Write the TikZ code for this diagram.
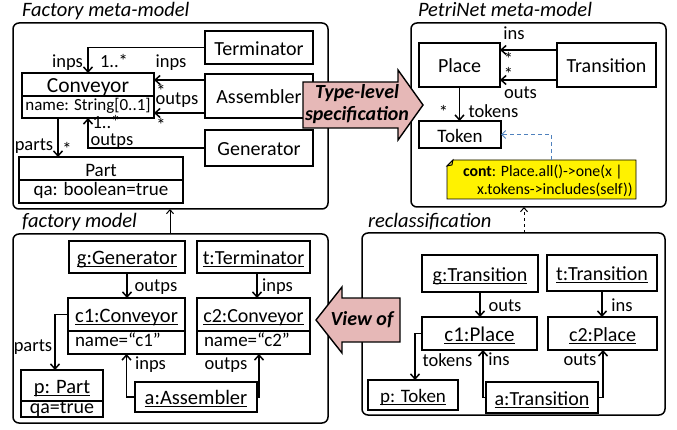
\documentclass[tikz,border=0pt]{standalone}
\usepackage{fontspec}
\setmainfont{Carlito}
\usetikzlibrary{arrows.meta}
\newcommand\fs[1]{\fontsize{#1}{#1}\selectfont}
\newcommand\fnote{\fontsize{15.8}{18}\selectfont}
\newcommand\myul[1]{\leavevmode\setbox0\hbox{#1}\rlap{\rule[-2.6pt]{\wd0}{1.3pt}}\box0}
\definecolor{blkfill}{RGB}{230,184,183}
\definecolor{dashblue}{RGB}{79,129,189}
\begin{document}
\begin{tikzpicture}[x=1pt,y=-1pt,
  every node/.style={inner sep=0pt,outer sep=0pt},
  frame/.style={draw,line width=1.5pt,rounded corners=6pt},
  box/.style={draw,line width=1.6pt,font=\fs{20},text height=16pt,text depth=0.6pt},
  attr/.style={draw,line width=1.6pt,font=\fs{19},text height=12pt,text depth=4pt},
  lattr/.style={attr,align=left,inner xsep=7pt},
  lbl/.style={font=\fs{18.5},anchor=base},
  ttl/.style={font=\fs{20.5}\itshape,anchor=base west},
  arr/.style={line width=1.6pt,-{Straight Barb[length=5pt,width=9pt,line width=1.5pt]}},
  link/.style={line width=1pt,-{Straight Barb[length=4pt,width=7pt,line width=1pt]}},
  dasharr/.style={draw=dashblue,line width=1pt,dash pattern=on 4pt off 3pt,-{Straight Barb[length=4pt,width=8pt,line width=1pt]}},
  blk/.style={draw,line width=1.4pt,fill=blkfill,line join=miter},
  blklbl/.style={font=\fontsize{20}{22}\selectfont\bfseries\itshape,align=center},
]
\useasboundingbox (0,0) rectangle (677,430);

% frames
\node[frame,minimum width=315pt,minimum height=186pt] (fmm) at (170.5,116) {};
\node[frame,minimum width=255pt,minimum height=184pt] (pmm) at (538.5,115) {};
\node[frame,minimum width=315pt,minimum height=189pt] (fm) at (170.5,328.5) {};
\node[frame,minimum width=303pt,minimum height=182pt] (rc) at (513.5,324) {};

\node[ttl] (tfmm) at (22,17) {Factory meta-model};
\node[ttl] (tpmm) at (418,17) {PetriNet meta-model};
\node[ttl] (tfm) at (22,228) {factory model};
\node[ttl] (trc) at (368,228) {reclassification};

% coordinates
\coordinate (ya1) at (0,80);
\coordinate (ya2) at (0,113);
\coordinate (x58) at (58,0);
\coordinate (yp1) at (0,50);
\coordinate (yp2) at (0,80);
\coordinate (x551) at (551,0);
\coordinate (x55) at (55,0);
\coordinate (x257) at (257,0);
\coordinate (x259) at (259,0);
\coordinate (x415) at (415,0);
\coordinate (x483) at (483,0);
\coordinate (x603) at (603,0);
\coordinate (x170) at (170,0);
\coordinate (x524) at (524,0);

% Factory meta-model
\node[box,minimum width=108pt,minimum height=33pt] (term) at (259,47.5) {Terminator};
\node[box,font=\fs{21.5},minimum width=132pt,minimum height=23pt] (conv) at (88,84.5) {Conveyor};
\node[attr,font=\fs{17},minimum width=132pt,minimum height=22pt] (conva) at (88,107) {name: String[0..1]};
\node[box,minimum width=108pt,minimum height=44pt] (asm) at (259,96) {Assembler};
\node[box,minimum width=108pt,minimum height=36pt] (gen) at (259,148) {Generator};
\node[box,font=\fs{19},minimum width=164pt,minimum height=23pt] (part) at (101,168.5) {Part};
\node[attr,minimum width=164pt,minimum height=23pt] (parta) at (101,191.5) {qa: boolean=true};

\draw[arr] (term.west) -| (conv.north);
\draw[arr] (asm.west |- ya1) -- (conv.east |- ya1);
\draw[arr] (asm.west |- ya2) -- (conva.east |- ya2);
\draw[arr] (gen.west) -| (conva.south);
\draw[arr] (conva.south -| x58) -- (part.north -| x58);

\node[lbl] (l1) at (67.5,68) {inps};
\node[lbl] (l2) at (114,68) {1..*};
\node[lbl] (l3) at (171,68) {inps};
\node[lbl] (l4) at (161,97.5) {*};
\node[lbl] (l5) at (177,104.5) {outps};
\node[lbl] (l6) at (161,132) {*};
\node[lbl] (l7) at (106.5,129) {1..*};
\node[lbl] (l8) at (112,145.5) {outps};
\node[lbl] (l9) at (34,150.7) {parts};
\node[lbl] (l10) at (67,156) {*};

% PetriNet meta-model
\node[box,minimum width=81pt,minimum height=44pt] (place) at (459.5,65) {Place};
\node[box,minimum width=99pt,minimum height=44pt] (trans) at (606.5,65) {Transition};
\node[box,font=\fs{19},minimum width=82pt,minimum height=27pt] (token) at (460,134.5) {Token};

\draw[arr] (trans.west |- yp1) -- (place.east |- yp1);
\draw[arr] (trans.west |- yp2) -- (place.east |- yp2);
\draw[arr] (place.south) -- (place.south |- token.north);

\node[lbl] (p1) at (514,39.3) {ins};
\node[lbl] (p2) at (508.5,65.5) {*};
\node[lbl] (p3) at (508.5,80.5) {*};
\node[lbl] (p4) at (520.5,98.3) {outs};
\node[lbl] (p5) at (443.5,118.7) {*};
\node[lbl] (p6) at (493.5,117.3) {tokens};

\draw[line width=0.8pt,fill=yellow] (453,160) -- (636,160) -- (636,199) -- (447,199) -- (447,166) -- cycle;
\draw[line width=0.8pt,fill=yellow!75!black] (447,166) -- (453,160) -- (452,165) -- cycle;
\node[minimum width=189pt,minimum height=39pt] (note) at (541.5,179.5) {};
\node[font=\fnote,anchor=base west] (n1) at (463,176.7) {\textbf{cont}: Place.all()->one(x |};
\node[font=\fnote,anchor=base west] (n2) at (477,195) {x.tokens->includes(self))};
\draw[dasharr] (note.north -| x551) |- (token.east);

% factory model
\node[box,font=\fs{20.5},minimum width=116pt,minimum height=32pt] (ig) at (127,257) {\myul{g:Generator}};
\node[box,minimum width=113pt,minimum height=32pt] (it) at (253.5,257) {\myul{t:Terminator}};
\node[box,font=\fs{20.5},minimum width=117pt,minimum height=33pt] (ic1) at (126.5,314.5) {\myul{c1:Conveyor}};
\node[lattr,text width=103pt,minimum height=23pt] (ic1a) at (126.5,342.5) {name=“c1”};
\node[box,minimum width=113pt,minimum height=33pt] (ic2) at (253.5,314.5) {\myul{c2:Conveyor}};
\node[lattr,text width=99pt,minimum height=23pt] (ic2a) at (253.5,342.5) {name=“c2”};
\node[box,font=\fs{20.5},minimum width=82pt,minimum height=31pt] (ip) at (62,385.5) {\myul{p: Part}};
\node[attr,font=\fs{20},minimum width=82pt,minimum height=16pt] (ipa) at (62,409) {qa=true};
\node[box,font=\fs{20.5},minimum width=122pt,minimum height=30pt] (ia) at (196,397) {\myul{a:Assembler}};

\draw[arr] (ig.south) -- (ig.south |- ic1.north);
\draw[arr] (it.south -| x257) -- (ic2.north -| x257);
\draw[arr] (ic1.west) -| (ip.north -| x55);
\draw[arr] (ia.west) -| (ic1a.south);
\draw[arr] (ia.east) -| (ic2a.south -| x259);

\node[lbl] (f1) at (156,291) {outps};
\node[lbl] (f2) at (277.5,291) {inps};
\node[lbl] (f3) at (33,351.7) {parts};
\node[lbl] (f4) at (150.5,369.3) {inps};
\node[lbl] (f5) at (226,369.3) {outps};

% reclassification
\node[box,minimum width=116pt,minimum height=37pt] (rg) at (480,273.5) {\myul{g:Transition}};
\node[box,minimum width=110pt,minimum height=36pt] (rt) at (602,273) {\myul{t:Transition}};
\node[box,font=\fs{21},minimum width=115pt,minimum height=33pt] (rc1) at (479.5,333.5) {\myul{c1:Place}};
\node[box,minimum width=109pt,minimum height=33pt] (rc2) at (602.5,333.5) {\myul{c2:Place}};
\node[box,font=\fs{19},minimum width=90pt,minimum height=30pt] (rp) at (413,395) {\myul{p: Token}};
\node[box,minimum width=112pt,minimum height=31pt] (ra) at (542,397.5) {\myul{a:Transition}};

\draw[arr] (rg.south) -- (rg.south |- rc1.north);
\draw[arr] (rt.south) -- (rt.south |- rc2.north);
\draw[arr] (rc1.west) -| (rp.north -| x415);
\draw[arr] (ra.west) -| (rc1.south -| x483);
\draw[arr] (ra.east) -| (rc2.south -| x603);

\node[lbl] (r1) at (505,311) {outs};
\node[lbl] (r2) at (622,311) {ins};
\node[lbl] (r3) at (447.5,366.7) {tokens};
\node[lbl] (r4) at (499,365) {ins};
\node[lbl] (r5) at (580,365) {outs};

% links between frames
\draw[link] (fm.north -| x170) -- (fmm.south -| x170);
\draw[link,dashed] (rc.north -| x524) -- (pmm.south -| x524);

% block arrows
\draw[blk] (303,82) -- (398,82) -- (398,70) -- (423,105) -- (398,140) -- (398,128) -- (303,128) -- cycle;
\node[blklbl] (tls) at (357,104.5) {Type-level\\specification};
\draw[blk] (400,298) -- (342,298) -- (342,287) -- (316,320) -- (342,353) -- (342,342) -- (400,342) -- cycle;
\node[blklbl] (vof) at (362,320) {View of};
\end{tikzpicture}
\end{document}
